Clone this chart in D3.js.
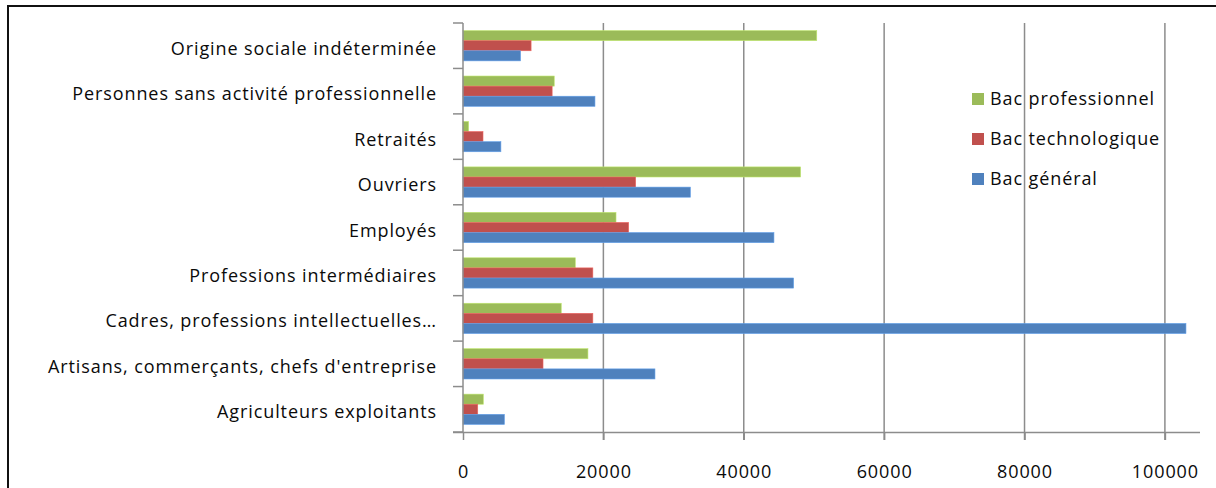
<!DOCTYPE html>
<html>
<head>
<meta charset="utf-8">
<script src="https://cdn.jsdelivr.net/npm/d3@7"></script>
<style>
  body { margin: 0; background: #fff; }
  text { font-family: "Open Sans", sans-serif; fill: #0a0a0a; }
</style>
</head>
<body>
<div id="chart"></div>
<script>
var svgWidth = 1216;
var svgHeight = 488;

// categories, top to bottom as drawn
var categories = [
  "Origine sociale indéterminée",
  "Personnes sans activité  professionnelle",
  "Retraités",
  "Ouvriers",
  "Employés",
  "Professions intermédiaires",
  "Cadres, professions intellectuelles…",
  "Artisans, commerçants, chefs d'entreprise",
  "Agriculteurs exploitants"
];

var seriesNames = ["Bac professionnel", "Bac technologique", "Bac général"];

var bacPro   = [50400, 13000, 800, 48100, 21800, 16000, 14000, 17800, 2900];
var bacTechno = [9700, 12700, 2850, 24600, 23600, 18500, 18500, 11400, 2100];
var bacGeneral = [8200, 18800, 5400, 32400, 44300, 47100, 103000, 27350, 5900];

var xTicks = [0, 20000, 40000, 60000, 80000, 100000];

var colors = ["#9BBB59", "#C0504D", "#4F81BD"];

var margin = { top: 23, left: 463, right: 16, bottom: 56 };
var height = svgHeight - margin.top - margin.bottom;

var svg = d3.select("#chart")
  .append("svg")
  .attr("width", svgWidth)
  .attr("height", svgHeight);

// outer frame
svg.append("path")
  .attr("d", "M8,488V6H1216")
  .attr("fill", "none")
  .attr("stroke", "#111")
  .attr("stroke-width", 2);

var chartGroup = svg.append("g")
  .attr("transform", `translate(0, ${margin.top})`);

var xScale = d3.scaleLinear()
  .domain([0, 105000])
  .range([margin.left, svgWidth - margin.right]);

var yScale = d3.scaleBand()
  .domain(categories)
  .range([0, height])
  .paddingInner(0)
  .paddingOuter(0);

var inner = d3.scaleBand()
  .domain(seriesNames)
  .range([0, yScale.bandwidth()])
  .paddingInner(0)
  .paddingOuter(0.75);

// gridlines
chartGroup.append("g")
  .selectAll("line")
  .data(xTicks.slice(1))
  .enter()
  .append("line")
  .attr("x1", d => xScale(d))
  .attr("x2", d => xScale(d))
  .attr("y1", 0)
  .attr("y2", height + 8)
  .attr("stroke", "#8c8c8c")
  .attr("stroke-width", 1.5);

// bars
var rows = categories.map(function(c, i) {
  return { cat: c, values: [bacPro[i], bacTechno[i], bacGeneral[i]] };
});

var groups = chartGroup.selectAll(".cat")
  .data(rows)
  .enter()
  .append("g")
  .attr("transform", d => `translate(0, ${yScale(d.cat)})`);

groups.selectAll("rect")
  .data(d => d.values.map((v, j) => ({ name: seriesNames[j], value: v, j: j })))
  .enter()
  .append("rect")
  .attr("x", xScale(0))
  .attr("y", d => inner(d.name))
  .attr("width", d => xScale(d.value) - xScale(0))
  .attr("height", inner.bandwidth())
  .attr("fill", d => colors[d.j])
  .attr("stroke", d => d3.color(colors[d.j]).brighter(0.6))
  .attr("stroke-width", 0.6);

// x axis
var bottomAxis = d3.axisBottom(xScale)
  .tickValues(xTicks)
  .tickSize(8)
  .tickPadding(25)
  .tickFormat(d3.format("d"));

var xAxis = chartGroup.append("g")
  .attr("transform", `translate(0, ${height})`)
  .call(bottomAxis);

xAxis.select(".domain")
  .attr("d", `M${margin.left - 10},0.5H${svgWidth - margin.right}`);

// y axis
var leftAxis = d3.axisLeft(yScale)
  .tickSize(0)
  .tickPadding(26);

var yAxis = chartGroup.append("g")
  .attr("transform", `translate(${margin.left}, 0)`)
  .call(leftAxis);

yAxis.select(".domain").attr("d", `M0,0V${height}`);

yAxis.selectAll(".tick text")
  .attr("dy", "0.5em");

// category boundary ticks
yAxis.append("g")
  .selectAll("line")
  .data(d3.range(categories.length + 1))
  .enter()
  .append("line")
  .attr("x1", -10)
  .attr("x2", 0)
  .attr("y1", d => d * yScale.step())
  .attr("y2", d => d * yScale.step())
  .attr("stroke", "#8c8c8c")
  .attr("stroke-width", 1.5);

svg.selectAll(".domain, .tick line")
  .attr("stroke", "#8c8c8c")
  .attr("stroke-width", 1.5);

svg.selectAll(".tick text")
  .style("font-size", "18px")
  .style("letter-spacing", "0.9px")
  .style("font-family", "Open Sans, sans-serif")
  .attr("fill", "#0a0a0a");

// legend
var legend = svg.append("g")
  .attr("transform", "translate(972, 99)");

var legendItem = legend.selectAll("g")
  .data(seriesNames)
  .enter()
  .append("g")
  .attr("transform", (d, i) => `translate(0, ${i * 40})`);

legendItem.append("rect")
  .attr("x", 0)
  .attr("y", -6)
  .attr("width", 12)
  .attr("height", 12)
  .attr("fill", (d, i) => colors[i]);

legendItem.append("text")
  .attr("x", 18)
  .attr("dy", "0.35em")
  .style("font-size", "18px")
  .style("letter-spacing", "0.9px")
  .text(d => d);
</script>
</body>
</html>
